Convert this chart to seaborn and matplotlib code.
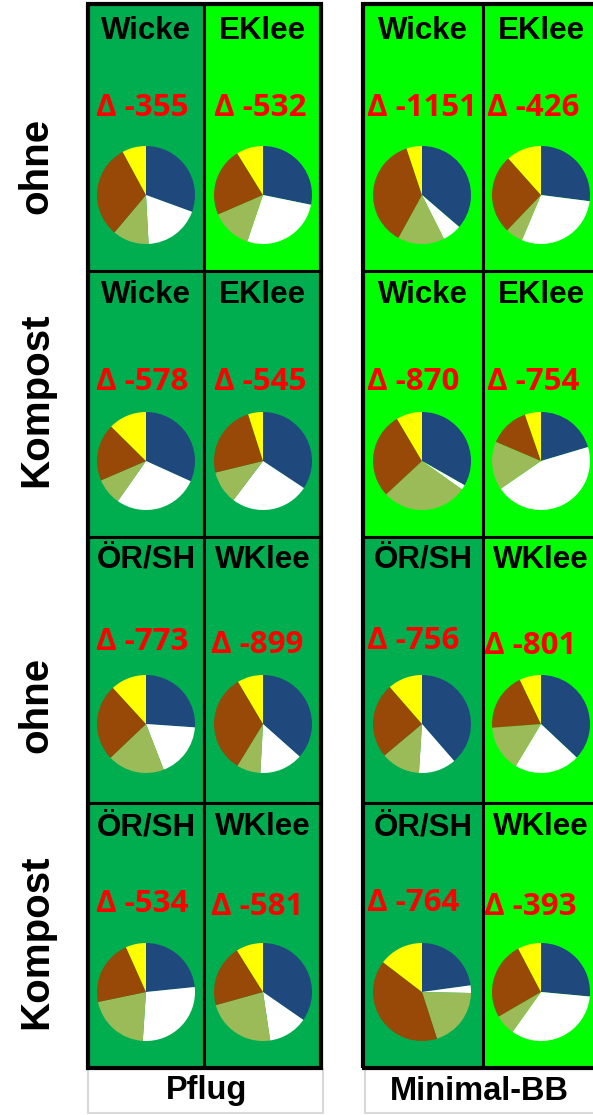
import matplotlib
matplotlib.use("Agg")
import matplotlib.pyplot as plt
from matplotlib.patches import Rectangle
import seaborn as sns

sns.set_theme(style="white")
plt.rcParams["font.family"] = ["Liberation Sans", "DejaVu Sans"]

# Grid content: rows (Düngung), columns (Zwischenfrucht), two tillage blocks
row_labels = ["ohne", "Kompost", "ohne", "Kompost"]
block_labels = ["Pflug", "Minimal-BB"]
titles = [
    ["Wicke", "EKlee", "Wicke", "EKlee"],
    ["Wicke", "EKlee", "Wicke", "EKlee"],
    ["ÖR/SH", "WKlee", "ÖR/SH", "WKlee"],
    ["ÖR/SH", "WKlee", "ÖR/SH", "WKlee"],
]
deltas = [
    [-355, -532, -1151, -426],
    [-578, -545, -870, -754],
    [-773, -899, -756, -801],
    [-534, -581, -764, -393],
]
# background: 0 = dark green, 1 = bright green
bg_kind = [
    [0, 1, 1, 1],
    [0, 0, 1, 1],
    [0, 0, 0, 1],
    [0, 0, 0, 1],
]

# pie shares (%) per cell, row by row
share_blue = [
    [30.6, 28.2, 36.3, 27.0],
    [31.8, 34.3, 33.2, 20.4],
    [26.1, 36.6, 38.6, 37.0],
    [23.4, 34.6, 22.8, 26.5],
]
share_white = [
    [18.6, 27.0, 6.3, 29.3],
    [28.0, 26.0, 1.6, 45.0],
    [18.0, 14.3, 12.4, 21.6],
    [27.7, 13.0, 2.5, 33.4],
]
share_olive = [
    [12.0, 13.3, 15.4, 5.8],
    [8.8, 10.9, 28.2, 16.0],
    [18.8, 7.9, 12.9, 15.2],
    [20.7, 23.0, 19.7, 6.8],
]
share_brown = [
    [31.0, 22.7, 36.9, 26.2],
    [18.9, 23.9, 28.4, 13.3],
    [25.3, 32.8, 24.7, 19.1],
    [21.6, 20.4, 40.3, 25.7],
]
share_yellow = [
    [7.9, 8.8, 5.1, 11.6],
    [12.6, 4.9, 8.5, 5.3],
    [11.8, 8.5, 11.4, 7.1],
    [6.7, 8.9, 14.6, 7.7],
]

slice_colors = sns.color_palette(["#1F497D", "#FFFFFF", "#9BBB59", "#984807", "#FFFF00"])
bg_colors = {0: "#00AE50", 1: "#00FF00"}

W, H = 593, 1115
fig = plt.figure(figsize=(W / 100, H / 100), dpi=100)
ax = fig.add_axes([0, 0, 1, 1])
ax.set_xlim(0, W)
ax.set_ylim(0, H)
ax.set_aspect("equal")
ax.axis("off")


def Y(y):
    return H - y


col_edges = [(88, 204), (204, 321), (363, 483), (483, 603)]
row_edges = [(4, 271), (271, 537), (537, 803), (803, 1068)]
pie_cx = [146, 263, 422, 541]
title_dy = [27, 24, 23, 24]
delta_dy = [
    [104, 104, 104, 104],
    [111, 111, 111, 111],
    [105, 108, 104, 109],
    [101, 104, 100, 104],
]
pie_dy = [191, 190, 187, 189]
delta_x_off = [8, 10, 4, 4]

for r, (y0, y1) in enumerate(row_edges):
    for c, (x0, x1) in enumerate(col_edges):
        ax.add_patch(Rectangle((x0, Y(y1)), x1 - x0, y1 - y0,
                               facecolor=bg_colors[bg_kind[r][c]],
                               edgecolor="black", linewidth=2.2, zorder=1))
        ax.text((x0 + x1) / 2 if c < 3 else x0 + 58, Y(y0 + title_dy[r]), titles[r][c],
                ha="center", va="center", fontsize=22.5, fontweight="bold",
                color="black", zorder=3)
        ax.text(x0 + delta_x_off[c] - (3 if titles[r][c] == "WKlee" else 0),
                Y(y0 + delta_dy[r][c]), f"Δ {deltas[r][c]}",
                ha="left", va="center", fontsize=22.5, fontweight="bold",
                family=["Open Sans", "DejaVu Sans"], color="#FF0000", zorder=3)
        vals = [share_blue[r][c], share_white[r][c], share_olive[r][c],
                share_brown[r][c], share_yellow[r][c]]
        ax.pie(vals, colors=slice_colors, startangle=90, counterclock=False,
               center=(pie_cx[c], Y(y0 + pie_dy[r])), radius=49,
               wedgeprops=dict(linewidth=0), frame=True)

# thick outer frames around each tillage block
for (xa, xb) in [(88, 321), (363, 603)]:
    ax.add_patch(Rectangle((xa, Y(1068)), xb - xa, 1068 - 4, facecolor="none",
                           edgecolor="black", linewidth=3, zorder=4))

# row labels
row_label_y = [166, 400, 705, 942]
for lbl, yc in zip(row_labels, row_label_y):
    ax.text(36, Y(yc), lbl, rotation=90, ha="center", va="center",
            fontsize=29, fontweight="bold", color="black")

# block labels at the bottom
for lbl, (xa, xb) in zip(block_labels, [(88, 323), (365, 603)]):
    ax.add_patch(Rectangle((xa, Y(1113)), xb - xa, 1113 - 1069, facecolor="white",
                           edgecolor="#D9D9D9", linewidth=1.5, zorder=2))
    ax.text((xa + xb) / 2 + 1 if lbl == "Pflug" else 479, Y(1091), lbl,
            ha="center", va="center", fontsize=23.5, fontweight="bold",
            color="black", zorder=3)

ax.set_xlim(0, W)
ax.set_ylim(0, H)
ax.axis("off")
fig.savefig("out.png", dpi=100)
